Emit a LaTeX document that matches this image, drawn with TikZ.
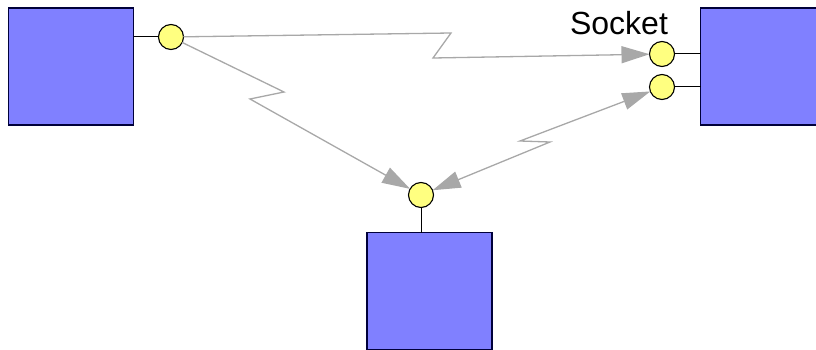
\documentclass[tikz,border=0pt]{standalone}
\usepackage{fontspec}
\setmainfont{Liberation Sans}
\usetikzlibrary{arrows.meta}
\definecolor{boxblue}{HTML}{8080FF}
\definecolor{boxedge}{HTML}{00003A}
\definecolor{sockyel}{HTML}{FFFF80}
\definecolor{wire}{HTML}{A8A8A8}
\begin{document}
\begin{tikzpicture}[x=1pt,y=-1pt,
  comp/.style={rectangle, draw=boxedge, fill=boxblue, line width=1.5pt, minimum width=125pt, minimum height=117pt, inner sep=0pt, outer sep=0pt},
  sock/.style={circle, draw=black, fill=sockyel, line width=1.1pt, minimum size=25pt, inner sep=0pt, outer sep=0pt},
  stub/.style={draw=black, line width=1pt},
  link/.style={draw=wire, line width=1.3pt, line join=miter, -{Triangle[length=28pt,width=17pt,fill=wire]}},
  blink/.style={draw=wire, line width=1.3pt, line join=miter, {Triangle[length=28pt,width=17pt,fill=wire]}-{Triangle[length=28pt,width=17pt,fill=wire]}},
  lbl/.style={font=\fontsize{32}{38}\selectfont, anchor=base, inner sep=0pt}
]
\useasboundingbox (0,0) rectangle (816,350);
\clip (0,0) rectangle (816,350);
% components
\node[comp] (A) at (71,66.5) {};
\node[comp] (B) at (763,66.5) {};
\node[comp] (C) at (429.5,291) {};
% sockets
\node[sock] (A1) at (171,37) {};
\node[sock] (B1) at (662,54) {};
\node[sock] (B2) at (662,87) {};
\node[sock] (C1) at (421,195) {};
% stubs
\draw[stub] (A1.west) -- (A1.west -| A.east);
\draw[stub] (B1.east) -- (B1.east -| B.west);
\draw[stub] (B2.east) -- (B2.east -| B.west);
\draw[stub] (C1.south) -- (C1.south |- C.north);
% label
\node[lbl] (L) at (619,35) {Socket};
% links
\draw[link] (A1) -- (451,33) -- (433,58) -- (B1);
\draw[link] (A1) -- (284,92) -- (250,99) -- (C1);
\draw[blink] (C1) -- (550,142) -- (520,141) -- (B2);
\end{tikzpicture}
\end{document}
